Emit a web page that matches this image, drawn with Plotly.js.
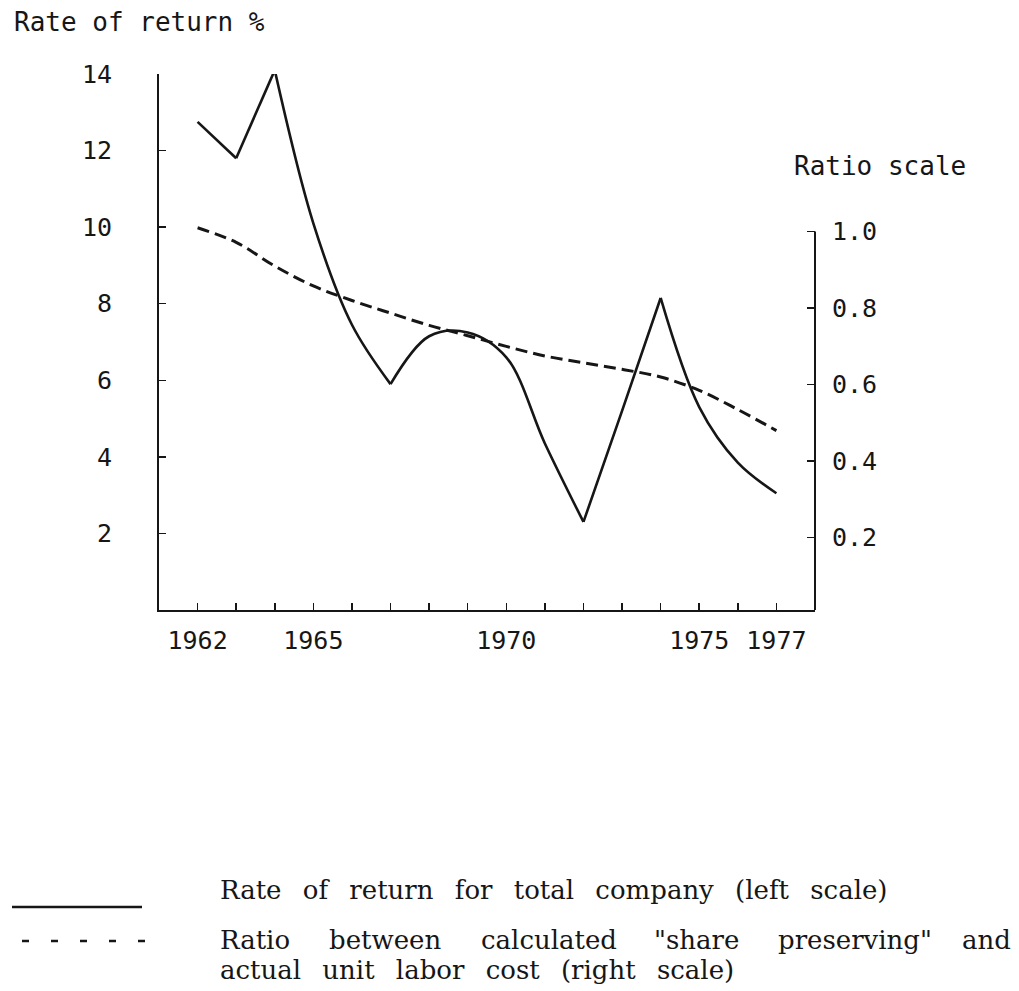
<!DOCTYPE html>
<html>
<head>
<meta charset="utf-8">
<script src="https://cdn.plot.ly/plotly-3.0.1.min.js"></script>
<style>html,body{margin:0;padding:0;background:#fff;}#chart{width:1019px;height:991px;}</style>
</head>
<body>
<div id="chart"></div>
<script>
// ---- data ----
const years = [1962, 1963, 1964, 1965, 1966, 1967, 1968, 1969, 1970, 1971, 1972, 1973, 1974, 1975, 1976, 1977];
const rateOfReturn = [12.75, 11.8, 14.1, 10.1, 7.45, 5.9, 7.15, 7.25, 6.6, 4.35, 2.3, 5.2, 8.15, 5.3, 3.85, 3.05];
const laborCostRatio = [1.01, 0.972, 0.91, 0.858, 0.82, 0.787, 0.755, 0.728, 0.70, 0.675, 0.657, 0.64, 0.62, 0.585, 0.535, 0.48];
const xTickLabels = ['1962', '', '', '1965', '', '', '', '', '1970', '', '', '', '', '1975', '', '1977'];
const leftTicks = [2, 4, 6, 8, 10, 12, 14];
const rightTicks = [0.2, 0.4, 0.6, 0.8, 1.0];
const rightTickLabels = ['0.2', '0.4', '0.6', '0.8', '1.0'];
const cornerYears = [1962, 1963, 1964, 1967, 1972, 1974, 1977];

// ---- layout geometry ----
const W = 1019, H = 991;
const M = {l: 159, r: 204, t: 74, b: 381};
const PW = W - M.l - M.r, PH = H - M.t - M.b;
const px = x => (x - M.l) / PW;
const py = y => (H - M.b - y) / PH;

const mono = 'DejaVu Sans Mono, monospace';
const serif = 'DejaVu Serif, serif';
const ink = '#161616';

// solid series drawn as smooth pieces between its sharp corners
const traces = [];
const cornerIdx = cornerYears.map(y => years.indexOf(y));
for (let i = 0; i < cornerIdx.length - 1; i++) {
  const a = cornerIdx[i], b = cornerIdx[i + 1];
  traces.push({
    x: years.slice(a, b + 1), y: rateOfReturn.slice(a, b + 1),
    type: 'scatter', mode: 'lines', yaxis: 'y',
    line: {color: ink, width: 2.6, shape: 'spline', smoothing: 1},
    showlegend: false, hoverinfo: 'x+y'
  });
}
traces.push({
  x: years, y: laborCostRatio, type: 'scatter', mode: 'lines', yaxis: 'y2',
  line: {color: ink, width: 3, dash: '12px,6px', shape: 'spline', smoothing: 1},
  showlegend: false
});

const legendFont = {family: serif, size: 26, color: ink};
const gap = '\u2002\u00A0';
const ann = [
  {text: 'Rate of return %', x: px(12), y: py(22), xanchor: 'left', yanchor: 'middle', font: {family: mono, size: 26, color: ink}},
  {text: 'Ratio scale', x: px(792), y: py(166), xanchor: 'left', yanchor: 'middle', font: {family: mono, size: 26, color: ink}},
  {text: ['Rate', 'of', 'return', 'for', 'total', 'company', '(left', 'scale)'].join(gap), x: px(218), y: py(890), xanchor: 'left', yanchor: 'middle', font: legendFont},
  {text: 'Ratio', x: px(218), y: py(940), xanchor: 'left', yanchor: 'middle', font: legendFont},
  {text: 'between', x: px(327), y: py(940), xanchor: 'left', yanchor: 'middle', font: legendFont},
  {text: 'calculated', x: px(479), y: py(940), xanchor: 'left', yanchor: 'middle', font: legendFont},
  {text: '"share', x: px(652), y: py(940), xanchor: 'left', yanchor: 'middle', font: legendFont},
  {text: 'preserving"', x: px(776), y: py(940), xanchor: 'left', yanchor: 'middle', font: legendFont},
  {text: 'and', x: px(1013), y: py(940), xanchor: 'right', yanchor: 'middle', font: legendFont},
  {text: ['actual', 'unit', 'labor', 'cost', '(right', 'scale)'].join(gap), x: px(218), y: py(970), xanchor: 'left', yanchor: 'middle', font: legendFont}
].map(a => Object.assign({xref: 'paper', yref: 'paper', showarrow: false}, a));

const shapes = [
  // right-axis line, only from the bottom up to 1.0
  {type: 'line', xref: 'paper', yref: 'y2', x0: 1, x1: 1, y0: 0.011, y1: 1.0, line: {color: ink, width: 2}},
  // legend keys
  {type: 'line', xref: 'paper', yref: 'paper', x0: px(12), x1: px(142), y0: py(907), y1: py(907), line: {color: ink, width: 2.5}},
  {type: 'line', xref: 'paper', yref: 'paper', x0: px(22), x1: px(150), y0: py(941), y1: py(941), line: {color: ink, width: 2.5, dash: '7px,22px'}}
];

const layout = {
  width: W, height: H, margin: M,
  paper_bgcolor: '#fff', plot_bgcolor: '#fff',
  showlegend: false,
  font: {family: mono, color: ink},
  xaxis: {
    range: [1961, 1978], tickvals: years, ticktext: xTickLabels,
    ticks: 'inside', ticklen: 7, tickwidth: 1.5, tickcolor: ink,
    showline: true, linecolor: ink, linewidth: 2, showgrid: false, zeroline: false,
    tickfont: {family: mono, size: 25, color: ink}, ticklabelstandoff: 7
  },
  yaxis: {
    range: [0, 14], tickvals: leftTicks, ticktext: leftTicks.map(String),
    ticks: 'inside', ticklen: 7, tickwidth: 1.5, tickcolor: ink,
    showline: true, linecolor: ink, linewidth: 2, showgrid: false, zeroline: false,
    tickfont: {family: mono, size: 25, color: ink}, ticklabelstandoff: 40
  },
  yaxis2: {
    overlaying: 'y', side: 'right', anchor: 'x',
    range: [0.011, 1.412], tickvals: rightTicks, ticktext: rightTickLabels,
    ticks: 'inside', ticklen: 8, tickwidth: 1.5, tickcolor: ink,
    showline: false, showgrid: false, zeroline: false,
    tickfont: {family: mono, size: 25, color: ink}, ticklabelstandoff: 16
  },
  annotations: ann,
  shapes: shapes
};

Plotly.newPlot('chart', traces, layout, {staticPlot: true, displayModeBar: false});
</script>
</body>
</html>
